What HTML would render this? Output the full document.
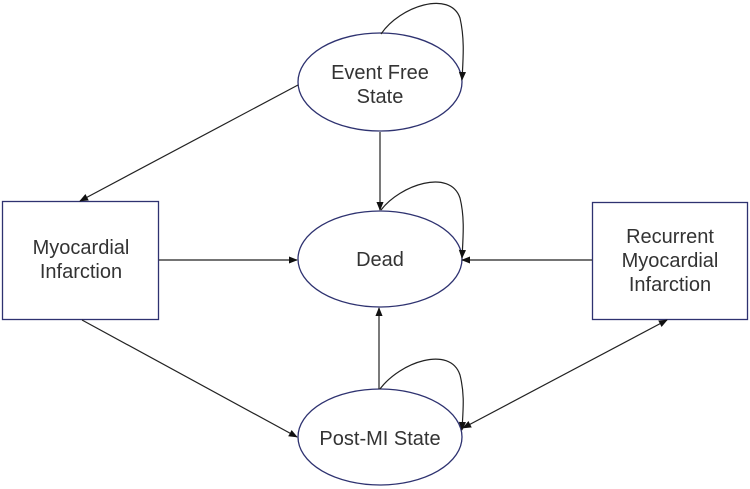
<!DOCTYPE html>
<html><head><meta charset="utf-8"><style>
html,body{margin:0;padding:0;background:#fff;}
svg{display:block;}
text{font-family:"Liberation Sans",sans-serif;font-size:20px;fill:#333;text-anchor:middle;}
</style></head><body>
<svg width="750" height="489" viewBox="0 0 750 489">
<defs>
<marker id="a" viewBox="0 0 10 10" refX="9" refY="5" markerWidth="9" markerHeight="9" markerUnits="userSpaceOnUse" orient="auto-start-reverse">
<path d="M0,1 L10,5 L0,9 z" fill="#111"/></marker>
</defs>
<g fill="#fff" stroke="#2e3270" stroke-width="1.3">
<ellipse cx="380" cy="82" rx="82" ry="49"/>
<ellipse cx="380" cy="259" rx="82" ry="48"/>
<ellipse cx="380" cy="437" rx="82" ry="48"/>
<rect x="2.5" y="201.5" width="156" height="118"/>
<rect x="592.5" y="202.5" width="155" height="117"/>
</g>
<g fill="none" stroke="#222" stroke-width="1.2">
<path d="M381,34 C400,6 450,-10 460,18 C465,40 463,60 462,80" marker-end="url(#a)"/>
<path d="M381,210 C400,185 450,168 460,198 C465,218 463,238 462,258" marker-end="url(#a)"/>
<path d="M380,389 C400,362 450,345 460,375 C465,395 463,410 462,430" marker-end="url(#a)"/>
<line x1="298" y1="85" x2="80" y2="201" marker-end="url(#a)"/>
<line x1="380" y1="132" x2="380" y2="210" marker-end="url(#a)"/>
<line x1="159" y1="260" x2="297" y2="260" marker-end="url(#a)"/>
<line x1="592" y1="260" x2="462" y2="260" marker-end="url(#a)"/>
<line x1="82" y1="320" x2="297" y2="437" marker-end="url(#a)"/>
<line x1="379" y1="389" x2="379" y2="308" marker-end="url(#a)"/>
<line x1="463" y1="428" x2="667" y2="320" marker-start="url(#a)" marker-end="url(#a)"/>
</g>
<text x="380" y="79">Event Free</text>
<text x="380" y="103">State</text>
<text x="380" y="266">Dead</text>
<text x="380" y="445">Post-MI State</text>
<text x="81" y="254">Myocardial</text>
<text x="81" y="278">Infarction</text>
<text x="670" y="243">Recurrent</text>
<text x="670" y="267">Myocardial</text>
<text x="670" y="291">Infarction</text>
</svg>
</body></html>
